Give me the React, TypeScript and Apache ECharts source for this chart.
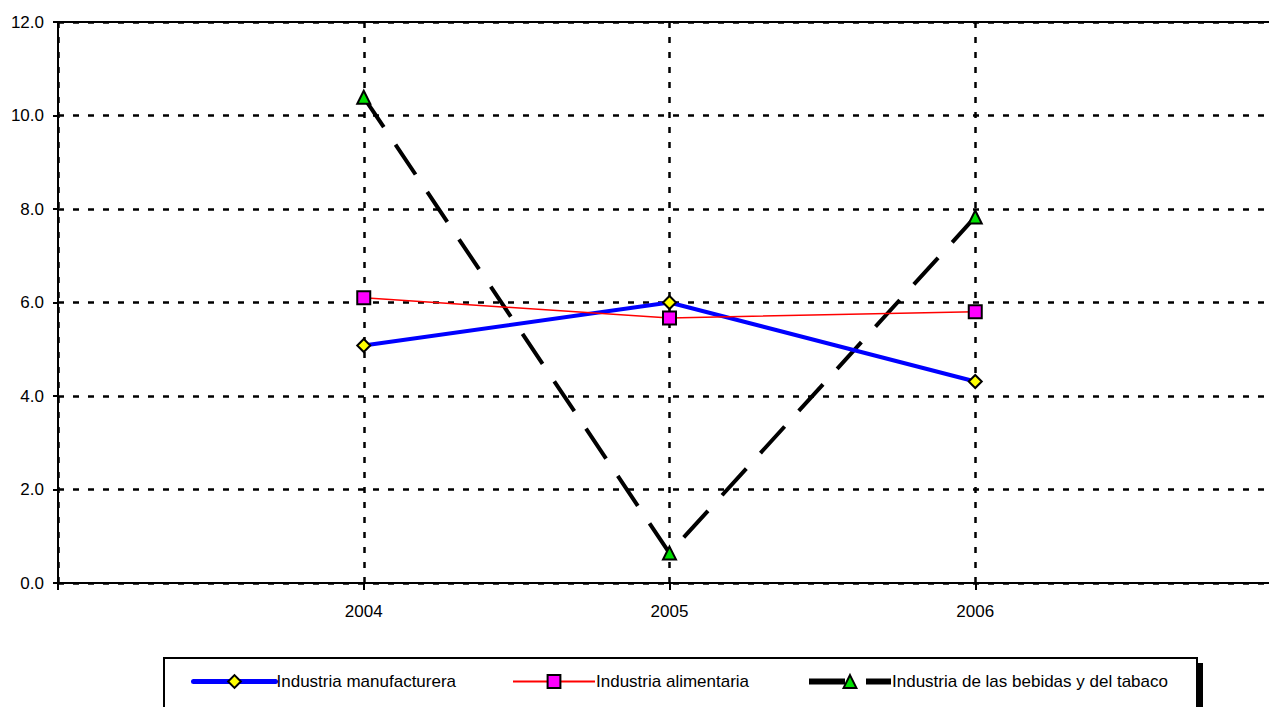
import React, { useEffect, useRef } from "react";
import * as echarts from "echarts";

const years = [2004, 2005, 2006];
const seriesNames = [
  "Industria manufacturera",
  "Industria alimentaria",
  "Industria de las bebidas y del tabaco",
];
const manufacturera = [5.08, 6.0, 4.31];
const alimentaria = [6.1, 5.67, 5.8];
const bebidas = [10.39, 0.64, 7.83];
const yMin = 0;
const yMax = 12;
const yStep = 2;
const xMin = 2003;
const xMax = 2007;

const FONT = "'Liberation Sans', Arial, Helvetica, sans-serif";
const dotted = { color: "#000", width: 2.5, type: [6, 9] as number[] };

export default function App() {
  const ref = useRef<HTMLDivElement>(null);
  useEffect(() => {
    if (!ref.current) return;
    const chart = echarts.init(ref.current, null, { renderer: "svg" });
    const pairs = (vals: number[]) => years.map((y, i) => [y, vals[i]]);
    const legendBase = {
      top: 673,
      itemWidth: 82,
      itemHeight: 16,
      itemGap: 0,
      padding: 0,
      textStyle: { fontFamily: FONT, fontSize: 17, color: "#000", padding: [0, 0, 0, -4] },
      selectedMode: false,
      z: 10,
    };
    chart.setOption({
      animation: false,
      backgroundColor: "#fff",
      grid: { left: 58, top: 22, right: 9, bottom: 124, containLabel: false },
      xAxis: [
        {
          type: "value",
          min: xMin,
          max: xMax,
          interval: 1,
          axisLine: { show: true, lineStyle: { color: "#000", width: 2 } },
          axisTick: { show: true, length: 7, lineStyle: { color: "#000", width: 2 } },
          axisLabel: {
            margin: 20,
            fontFamily: FONT,
            fontSize: 17,
            color: "#000",
            formatter: (v: number) => (years.includes(v) ? String(v) : ""),
          },
          splitLine: { show: true, lineStyle: dotted },
        },
        {
          type: "value",
          position: "top",
          min: xMin,
          max: xMax,
          axisLine: { show: true, onZero: false, lineStyle: { color: "#000", width: 2 } },
          axisTick: { show: false },
          axisLabel: { show: false },
          splitLine: { show: false },
        },
      ],
      yAxis: {
        type: "value",
        min: yMin,
        max: yMax,
        interval: yStep,
        axisLine: { show: true, lineStyle: { color: "#000", width: 2 } },
        axisTick: { show: true, length: 5, lineStyle: { color: "#000", width: 2 } },
        axisLabel: {
          margin: 14,
          fontFamily: FONT,
          fontSize: 17,
          color: "#000",
          formatter: (v: number) => v.toFixed(1),
        },
        splitLine: { show: true, lineStyle: dotted },
      },
      legend: [
        { ...legendBase, left: 191, data: [seriesNames[0]], lineStyle: { width: 5, cap: "round" } },
        { ...legendBase, left: 512, data: [seriesNames[1]], lineStyle: { width: 2 } },
        { ...legendBase, left: 806, data: [seriesNames[2]], lineStyle: { width: 6, type: [36, 21] } },
      ],
      graphic: [
        {
          type: "rect",
          z: 1,
          shape: { x: 1198, y: 663, width: 5, height: 80 },
          style: { fill: "#000" },
        },
        {
          type: "rect",
          z: 2,
          shape: { x: 164, y: 658, width: 1033, height: 80 },
          style: { fill: "#fff", stroke: "#000", lineWidth: 2 },
        },
      ],
      series: [
        {
          name: seriesNames[0],
          type: "line",
          data: pairs(manufacturera),
          lineStyle: { color: "#0000FF", width: 4 },
          symbol: "diamond",
          symbolSize: 13,
          itemStyle: { color: "#FFFF00", borderColor: "#000", borderWidth: 2 },
          z: 3,
        },
        {
          name: seriesNames[1],
          type: "line",
          data: pairs(alimentaria),
          lineStyle: { color: "#FF0000", width: 1.5 },
          symbol: "rect",
          symbolSize: 13,
          itemStyle: { color: "#FF00FF", borderColor: "#000", borderWidth: 2 },
          z: 4,
        },
        {
          name: seriesNames[2],
          type: "line",
          data: pairs(bebidas),
          lineStyle: { color: "#000", width: 4, type: [36, 21] },
          symbol: "triangle",
          symbolSize: 13,
          itemStyle: { color: "#00E000", borderColor: "#000", borderWidth: 2 },
          z: 2,
        },
      ],
    });
    return () => chart.dispose();
  }, []);
  return (
    <div
      style={{
        position: "fixed",
        left: 0,
        top: 0,
        width: 1269,
        height: 707,
        overflow: "hidden",
        background: "#fff",
      }}
    >
      <div ref={ref} style={{ width: 1290, height: 707 }} />
    </div>
  );
}
